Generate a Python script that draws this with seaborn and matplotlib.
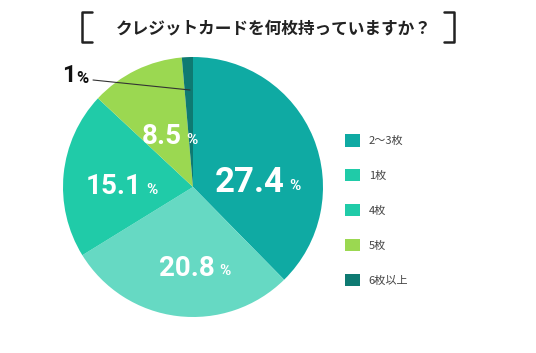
import matplotlib
matplotlib.use("Agg")
import matplotlib.pyplot as plt
from matplotlib.lines import Line2D
from matplotlib.patches import Patch
import seaborn as sns

# data
labels = ["2〜3枚", "1枚", "4枚", "5枚", "6枚以上"]
values = [27.4, 20.8, 15.1, 8.5, 1]
value_text = ["27.4", "20.8", "15.1", "8.5", "1"]
colors = ["#0faaa3", "#66d9c3", "#20cba8", "#9bd851", "#0e7a72"]
legend_colors = ["#0faaa3", "#20cba8", "#20cba8", "#9bd851", "#0e7a72"]
title = "クレジットカードを何枚持っていますか？"

sns.set_style("white")
plt.rcParams["font.family"] = ["Noto Sans CJK JP", "DejaVu Sans"]

W, H = 536, 353
fig = plt.figure(figsize=(W / 100, H / 100), dpi=100)

# pie centred at (193, 187) px, radius 130 px
cx, cy, r = 193, 187, 130
ax = fig.add_axes([(cx - r) / W, (H - cy - r) / H, 2 * r / W, 2 * r / H])
wedges, _ = ax.pie(values, colors=colors, startangle=90, counterclock=False,
                   radius=1, wedgeprops=dict(linewidth=0))
ax.set_xlim(-1, 1)
ax.set_ylim(-1, 1)
ax.set_aspect("equal")
ax.axis("off")


def px(x, y):
    return ((x - cx) / r, (cy - y) / r)


# value labels (number + small percent sign)
num_font = dict(family=["Roboto", "DejaVu Sans"], weight="bold")
label_pos = [
    ((285, 183), 25, "white"),
    ((215, 268), 20, "white"),
    ((142, 187), 20, "white"),
    ((182, 137), 20, "white"),
]
for (pos, size, col), txt in zip(label_pos, value_text[:4]):
    x, y = px(*pos)
    ax.text(x, y, txt, ha="right", va="center", color=col, fontsize=size, **num_font)
    ax.text(x + 0.03, y - 0.02, "%", ha="left", va="center", color=col, fontsize=11, **num_font)

# small slice label with leader line
x, y = px(76, 76)
ax.text(x, y, value_text[4], ha="right", va="center", color="#111111", fontsize=17, **num_font)
ax.text(x + 0.005, y - 0.02, "%", ha="left", va="center", color="#111111", fontsize=12, **num_font)
x0, y0 = px(93, 80)
x1, y1 = px(190, 90)
ax.plot([x0, x1], [y0, y1], color="#333333", lw=0.8)

# title with brackets
fig.text(274 / W, 1 - 28 / H, title, ha="center", va="center", fontsize=12,
         weight="bold", color="#222222")
bc = "#222222"
for xs, ys in [([92, 82, 82, 92], [12, 12, 42, 42]),
               ([444, 454, 454, 444], [12, 12, 42, 42])]:
    fig.add_artist(Line2D([x / W for x in xs], [1 - y / H for y in ys],
                          color=bc, lw=1.8, transform=fig.transFigure))

# legend
handles = [Patch(facecolor=c, edgecolor="none") for c in legend_colors]
leg = fig.legend(handles, labels, loc="upper left",
                 bbox_to_anchor=(341 / W, 1 - 130 / H), frameon=False,
                 fontsize=8, handlelength=1.3, handleheight=1.3,
                 labelspacing=2.05, handletextpad=0.8, borderaxespad=0)
for t in leg.get_texts():
    t.set_color("#444444")

fig.savefig("out.png", dpi=100)
